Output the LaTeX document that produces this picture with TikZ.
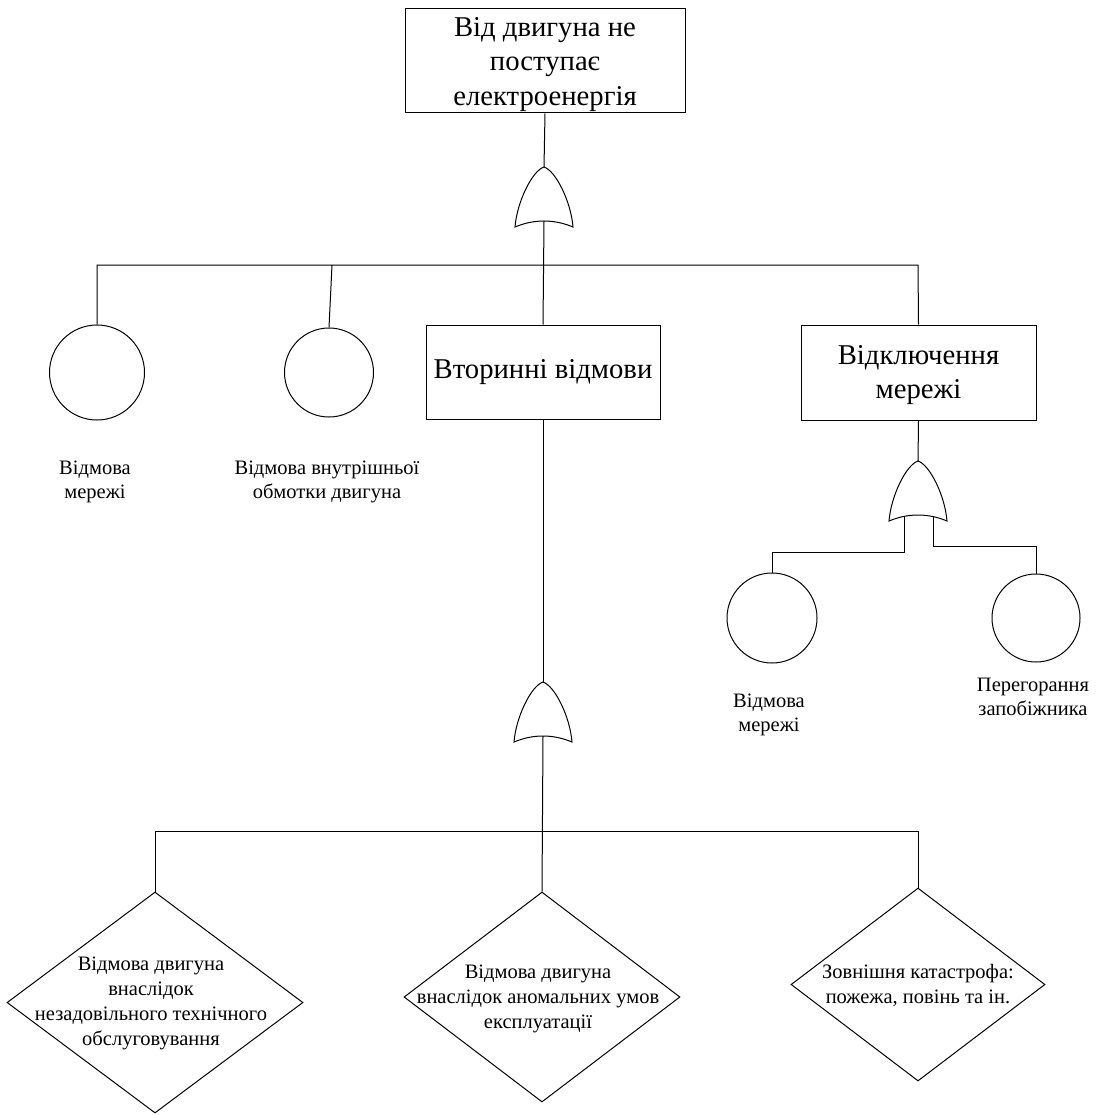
\documentclass[tikz,border=0pt]{standalone}
\usepackage{fontspec}
\newfontfamily\serfnt{Liberation Serif}
\usetikzlibrary{shapes.geometric}
\newcommand\bigfnt{\serfnt\fontsize{28.7}{34.5}\selectfont}
\newcommand\smallfnt{\serfnt\fontsize{20.5}{24}\selectfont}
\newcommand\diafnt{\serfnt\fontsize{20.5}{25}\selectfont}
\tikzset{
  ln/.style={line width=1pt, draw=black},
  box/.style={ln, rectangle, inner sep=0pt, align=center, font=\bigfnt},
  btxt/.style={align=center, inner sep=0pt, anchor=north, font=\bigfnt},
  evt/.style={ln, circle, inner sep=0pt},
  dia/.style={ln, diamond, inner sep=0pt},
  lbl/.style={align=center, inner sep=0pt, anchor=north, font=\smallfnt},
  dtxt/.style={align=center, inner sep=0pt, anchor=north, font=\diafnt},
  orgate/.pic={
    \draw[ln] (-29,60) .. controls (-27,35) and (-12,4) .. (0,0)
              .. controls (12,4) and (27,35) .. (29,60)
              .. controls (10,52) and (-10,52) .. cycle;
    \coordinate (-out) at (0,0);
    \coordinate (-in) at (0,54);
    \coordinate (-inL) at (-14,55.5);
    \coordinate (-inR) at (15,55.5);
  }
}
\begin{document}
\begin{tikzpicture}[x=1pt,y=-1pt]
\useasboundingbox (0,0) rectangle (1097,1115);

% boxes
\node[box, minimum width=280, minimum height=104] (top) at (545,61) {};
\node[btxt] (toptxt) at (545,17) {Від двигуна не\\поступає\\електроенергія};
\node[box, minimum width=234, minimum height=94] (vt) at (543,372)
  {Вторинні відмови};
\node[box, minimum width=235, minimum height=95] (vk) at (918.5,372.5) {};
\node[btxt] (vktxt) at (918.5,345) {Відключення\\мережі};

% gates
\pic (g1) at (544,167) {orgate};
\pic (g2) at (918,461) {orgate};
\pic (g3) at (543,682) {orgate};

% basic events
\node[evt, minimum size=95] (c1) at (97,372.5) {};
\node[evt, minimum size=89] (c2) at (329,372.5) {};
\node[evt, minimum size=90] (c3) at (772,618) {};
\node[evt, minimum size=88] (c4) at (1036,618) {};

\node[lbl] (l1) at (95,461) {Відмова\\мережі};
\node[lbl] (l2) at (327,461) {Відмова внутрішньої\\обмотки двигуна};
\node[lbl] (l3) at (769,694) {Відмова\\мережі};
\node[lbl] (l4) at (1033,678) {Перегорання\\запобіжника};

% undeveloped events
\node[dia, minimum width=296, minimum height=221] (d1) at (155,1002.5) {};
\node[dia, minimum width=276, minimum height=210] (d2) at (542,997) {};
\node[dia, minimum width=254, minimum height=193] (d3) at (918,984.5) {};

\node[dtxt] (t1) at (151,957) {Відмова двигуна\\внаслідок\\незадовільного технічного\\обслуговування};
\node[dtxt] (t2) at (538,965) {Відмова двигуна\\внаслідок аномальних умов\\експлуатації};
\node[dtxt] (t3) at (918,964) {Зовнішня катастрофа:\\пожежа, повінь та ін.};

% connectors
\coordinate (bus1) at (918,265);
\coordinate (tap2) at (332,265);
\coordinate (bus2) at (918,831);

\draw[ln] (top.south) -- (g1-out);
\draw[ln] (g1-in) -- (vt.north);
\draw[ln] (c1.north) |- (bus1) -- (vk.north);
\draw[ln] (tap2) -- (c2.north);

\draw[ln] (vk.south) -- (g2-out);
\draw[ln] (g2-inL) -- ++(0,35.5) -| (c3.north);
\draw[ln] (g2-inR) -- ++(0,29.5) -| (c4.north);

\draw[ln] (vt.south) -- (g3-out);
\draw[ln] (g3-in) -- (d2.north);
\draw[ln] (d1.north) |- (bus2) -- (d3.north);
\end{tikzpicture}
\end{document}
